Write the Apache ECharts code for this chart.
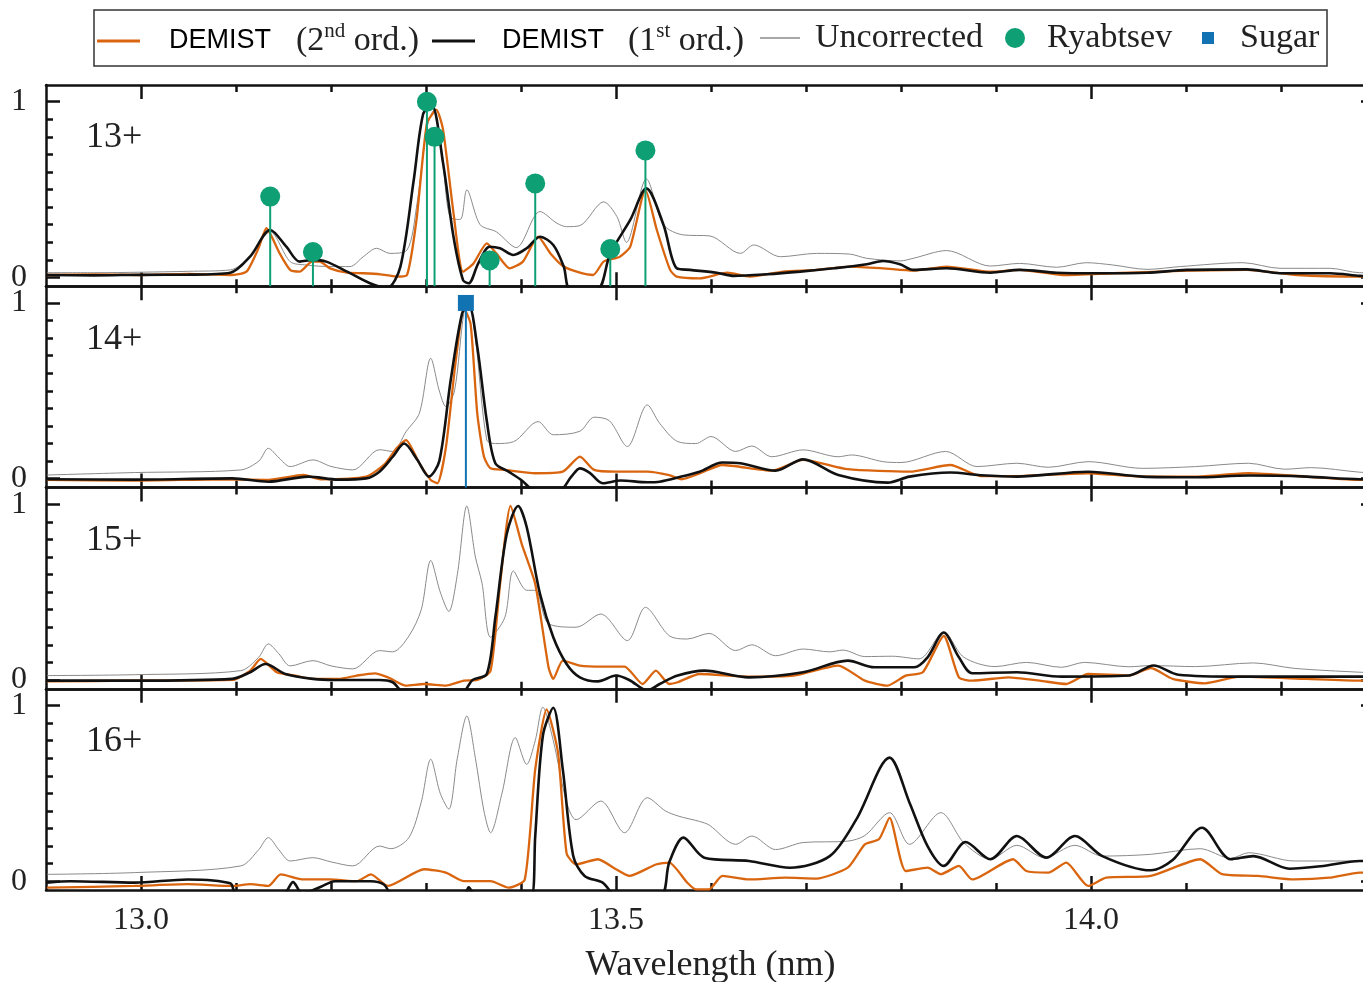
<!DOCTYPE html>
<html><head><meta charset="utf-8">
<script src="https://cdn.jsdelivr.net/npm/echarts@6/dist/echarts.min.js"></script>
<style>html,body{margin:0;padding:0;background:#fff}#c{width:1363px;height:982px}</style>
</head><body><div id="c"></div><script>
// ---------- labels / ticks ----------
const ions = ['13+', '14+', '15+', '16+'];
const xTickLabels = [13.0, 13.5, 14.0];
const xMinorTicks = [13.0, 13.1, 13.2, 13.3, 13.4, 13.5, 13.6, 13.7, 13.8, 13.9, 14.0, 14.1, 14.2];
const yTickLabels = [0, 1];
const yMinorTicks = [0, 0.1, 0.2, 0.3, 0.4, 0.5, 0.6, 0.7, 0.8, 0.9, 1.0];
const seriesNames = ['DEMIST (2nd ord.)', 'DEMIST (1st ord.)', 'Uncorrected', 'Ryabtsev', 'Sugar'];

// ---------- 13+ ----------
const p13Orange = [[12.901,0.014],[12.95,0.018],[13.0,0.014],[13.05,0.02],[13.094,0.014],[13.111,0.033],[13.124,0.17],[13.132,0.28],[13.146,0.137],[13.157,0.043],[13.167,0.033],[13.180,0.09],[13.188,0.09],[13.199,0.052],[13.217,0.027],[13.234,0.024],[13.252,0.018],[13.269,0.005],[13.280,0.014],[13.290,0.327],[13.301,0.877],[13.311,0.953],[13.318,0.84],[13.329,0.365],[13.339,0.033],[13.350,0.08],[13.364,0.194],[13.374,0.137],[13.388,0.052],[13.402,0.09],[13.418,0.232],[13.431,0.137],[13.445,0.062],[13.462,0.027],[13.476,0.014],[13.487,0.09],[13.504,0.118],[13.515,0.175],[13.531,0.498],[13.543,0.27],[13.557,0.043],[13.564,0.005],[13.588,-0.005],[13.617,0.027],[13.641,0.005],[13.676,0.033],[13.711,0.043],[13.746,0.062],[13.781,0.052],[13.813,0.039],[13.848,0.062],[13.894,0.033],[13.925,0.043],[13.971,0.014],[14.023,0.024],[14.094,0.037],[14.164,0.043],[14.217,0.014],[14.283,0.005],[14.299,0.005]];
const p13Black = [[12.901,0.014],[12.95,0.012],[13.0,0.015],[13.05,0.016],[13.094,0.027],[13.115,0.12],[13.136,0.27],[13.153,0.175],[13.167,0.09],[13.181,0.1],[13.195,0.09],[13.217,0.033],[13.241,-0.033],[13.259,-0.06],[13.273,0.06],[13.287,0.55],[13.297,0.93],[13.306,0.98],[13.318,0.65],[13.329,0.23],[13.339,-0.015],[13.345,-0.033],[13.355,0.08],[13.367,0.175],[13.378,0.166],[13.392,0.128],[13.406,0.166],[13.420,0.232],[13.434,0.185],[13.445,0.062],[13.452,-0.07],[13.480,-0.07],[13.494,0.137],[13.515,0.327],[13.532,0.507],[13.550,0.3],[13.564,0.052],[13.578,0.043],[13.606,0.027],[13.624,0.009],[13.659,0.018],[13.694,0.033],[13.729,0.052],[13.764,0.075],[13.781,0.094],[13.799,0.075],[13.813,0.043],[13.848,0.052],[13.894,0.027],[13.925,0.043],[13.964,0.027],[14.006,0.024],[14.059,0.027],[14.101,0.043],[14.164,0.046],[14.199,0.024],[14.252,0.024],[14.283,0.009],[14.299,0.005]];
const p13Gray = [[12.901,0.027],[12.95,0.027],[13.0,0.03],[13.05,0.035],[13.094,0.043],[13.115,0.12],[13.136,0.26],[13.157,0.09],[13.174,0.071],[13.199,0.062],[13.220,0.062],[13.234,0.118],[13.248,0.166],[13.262,0.137],[13.280,0.156],[13.290,0.4],[13.301,0.85],[13.308,0.95],[13.317,0.7],[13.325,0.346],[13.336,0.33],[13.343,0.498],[13.357,0.3],[13.374,0.26],[13.395,0.17],[13.420,0.375],[13.438,0.308],[13.448,0.289],[13.462,0.295],[13.487,0.43],[13.501,0.346],[13.511,0.2],[13.532,0.56],[13.550,0.3],[13.571,0.242],[13.599,0.236],[13.631,0.137],[13.645,0.185],[13.673,0.118],[13.711,0.137],[13.746,0.133],[13.764,0.109],[13.799,0.094],[13.813,0.109],[13.848,0.153],[13.894,0.065],[13.925,0.08],[13.964,0.058],[13.995,0.084],[14.023,0.071],[14.059,0.046],[14.094,0.062],[14.160,0.084],[14.199,0.052],[14.252,0.052],[14.283,0.027],[14.299,0.027]];
const ryabtsev13 = [[13.136,0.46],[13.181,0.145],[13.301,1.0],[13.309,0.80],[13.367,0.097],[13.415,0.535],[13.494,0.162],[13.531,0.723]];

// ---------- 14+ ----------
const p14Orange = [[12.901,-0.007],[12.993,-0.011],[13.086,-0.003],[13.134,-0.007],[13.171,0.021],[13.189,-0.003],[13.237,0.012],[13.256,0.08],[13.269,0.173],[13.279,0.22],[13.293,0.088],[13.305,-0.007],[13.312,-0.026],[13.321,0.18],[13.331,0.656],[13.340,0.97],[13.347,0.88],[13.354,0.37],[13.361,0.126],[13.368,0.059],[13.383,0.05],[13.415,0.031],[13.444,0.04],[13.462,0.126],[13.477,0.05],[13.500,0.04],[13.533,0.04],[13.556,0.02],[13.569,-0.003],[13.588,0.03],[13.612,0.078],[13.664,0.046],[13.697,0.107],[13.744,0.054],[13.809,0.04],[13.852,0.078],[13.884,0.015],[13.922,0.015],[13.997,0.031],[14.054,0.012],[14.110,0.012],[14.166,0.031],[14.227,0.012],[14.283,-0.007],[14.299,-0.007]];
const p14Black = [[12.901,-0.003],[12.993,-0.005],[13.096,0.002],[13.134,-0.017],[13.176,0.012],[13.208,-0.005],[13.237,0.002],[13.251,0.04],[13.265,0.125],[13.277,0.2],[13.291,0.106],[13.303,0.012],[13.314,0.1],[13.326,0.56],[13.338,0.94],[13.345,0.99],[13.354,0.75],[13.364,0.33],[13.373,0.088],[13.387,0.04],[13.401,-0.01],[13.415,-0.07],[13.440,-0.07],[13.453,0.012],[13.462,0.059],[13.472,0.035],[13.486,-0.026],[13.505,-0.01],[13.533,-0.02],[13.546,-0.017],[13.569,0.012],[13.588,0.04],[13.612,0.092],[13.631,0.088],[13.668,0.046],[13.697,0.11],[13.734,0.021],[13.786,-0.022],[13.809,0.012],[13.852,0.035],[13.884,0.02],[13.922,0.012],[13.997,0.04],[14.054,0.012],[14.110,0.008],[14.166,0.018],[14.227,0.012],[14.283,-0.003],[14.299,-0.003]];
const p14Gray = [[12.901,0.021],[12.993,0.035],[13.105,0.05],[13.124,0.1],[13.134,0.173],[13.145,0.12],[13.157,0.069],[13.181,0.107],[13.200,0.07],[13.223,0.05],[13.251,0.165],[13.265,0.155],[13.279,0.268],[13.293,0.372],[13.305,0.685],[13.314,0.5],[13.321,0.41],[13.330,0.5],[13.340,0.95],[13.345,1.0],[13.352,0.8],[13.364,0.22],[13.373,0.2],[13.392,0.21],[13.418,0.325],[13.434,0.25],[13.462,0.27],[13.477,0.35],[13.493,0.33],[13.512,0.183],[13.533,0.42],[13.546,0.315],[13.565,0.211],[13.584,0.2],[13.600,0.24],[13.626,0.155],[13.643,0.186],[13.664,0.125],[13.697,0.164],[13.734,0.125],[13.748,0.135],[13.781,0.097],[13.800,0.092],[13.847,0.155],[13.880,0.069],[13.922,0.088],[13.955,0.065],[13.997,0.097],[14.054,0.059],[14.110,0.069],[14.166,0.088],[14.204,0.054],[14.232,0.063],[14.283,0.037],[14.299,0.035]];
const sugar14 = [[13.342,1.0]];

// ---------- 15+ ----------
const p15Orange = [[12.901,-0.008],[12.993,-0.004],[13.096,0.0],[13.115,0.053],[13.126,0.12],[13.143,0.044],[13.162,0.025],[13.181,0.006],[13.208,0.006],[13.227,0.025],[13.246,0.038],[13.260,0.015],[13.279,-0.032],[13.298,-0.023],[13.321,-0.032],[13.340,-0.004],[13.354,0.0],[13.368,0.053],[13.378,0.546],[13.389,0.99],[13.401,0.77],[13.415,0.546],[13.429,0.072],[13.434,0.006],[13.444,0.11],[13.462,0.082],[13.486,0.076],[13.509,0.076],[13.528,-0.023],[13.542,0.053],[13.556,-0.023],[13.565,-0.013],[13.588,0.034],[13.640,0.019],[13.687,0.025],[13.734,0.082],[13.762,-0.004],[13.786,-0.032],[13.805,0.025],[13.823,0.044],[13.845,0.25],[13.861,0.015],[13.875,-0.004],[13.913,0.015],[13.946,-0.004],[13.974,-0.023],[13.997,0.034],[14.040,0.025],[14.063,0.068],[14.086,0.006],[14.120,-0.019],[14.157,0.019],[14.227,0.006],[14.283,-0.004],[14.299,-0.004]];
const p15Black = [[12.901,-0.004],[12.993,-0.004],[13.096,0.006],[13.115,0.044],[13.131,0.091],[13.152,0.034],[13.181,0.006],[13.204,0.0],[13.251,0.0],[13.265,-0.013],[13.277,-0.07],[13.338,-0.07],[13.349,0.0],[13.364,0.034],[13.373,0.356],[13.385,0.83],[13.397,0.99],[13.406,0.87],[13.420,0.49],[13.434,0.243],[13.448,0.091],[13.462,0.015],[13.481,-0.008],[13.500,0.025],[13.514,0.0],[13.533,-0.06],[13.546,-0.023],[13.565,0.025],[13.593,0.053],[13.640,0.015],[13.697,0.044],[13.744,0.11],[13.772,0.072],[13.814,0.072],[13.828,0.129],[13.845,0.27],[13.861,0.129],[13.875,0.038],[13.922,0.044],[13.969,0.019],[14.040,0.025],[14.066,0.082],[14.092,0.03],[14.157,0.019],[14.283,0.019],[14.299,0.019]];
const p15Gray = [[12.901,0.025],[12.993,0.03],[13.105,0.053],[13.124,0.13],[13.134,0.205],[13.145,0.15],[13.157,0.08],[13.181,0.11],[13.200,0.08],[13.223,0.063],[13.251,0.167],[13.265,0.16],[13.282,0.25],[13.295,0.4],[13.305,0.68],[13.315,0.5],[13.324,0.39],[13.333,0.6],[13.343,0.99],[13.352,0.7],[13.359,0.55],[13.368,0.243],[13.383,0.356],[13.392,0.62],[13.406,0.51],[13.415,0.51],[13.429,0.32],[13.458,0.3],[13.484,0.375],[13.512,0.224],[13.531,0.413],[13.556,0.252],[13.575,0.233],[13.598,0.265],[13.626,0.167],[13.643,0.2],[13.668,0.138],[13.697,0.176],[13.725,0.16],[13.739,0.17],[13.762,0.133],[13.791,0.135],[13.819,0.12],[13.845,0.27],[13.866,0.13],[13.899,0.076],[13.932,0.1],[13.969,0.072],[13.993,0.1],[14.040,0.075],[14.063,0.082],[14.110,0.076],[14.171,0.097],[14.214,0.066],[14.283,0.044],[14.299,0.042]];

// ---------- 16+ ----------
const p16Orange = [[12.901,-0.037],[12.993,-0.027],[13.049,-0.017],[13.096,-0.027],[13.115,-0.017],[13.134,-0.027],[13.147,0.039],[13.171,0.01],[13.199,0.01],[13.227,0.0],[13.242,0.039],[13.260,-0.027],[13.298,0.068],[13.321,0.049],[13.340,0.0],[13.368,0.0],[13.387,-0.037],[13.404,0.01],[13.415,0.636],[13.427,0.978],[13.439,0.73],[13.448,0.16],[13.458,0.095],[13.481,0.125],[13.500,0.068],[13.514,0.03],[13.542,0.095],[13.556,0.106],[13.575,-0.008],[13.584,-0.046],[13.598,-0.046],[13.612,0.03],[13.640,0.01],[13.678,0.02],[13.711,0.015],[13.744,0.077],[13.762,0.21],[13.777,0.24],[13.788,0.36],[13.805,0.058],[13.828,0.077],[13.842,0.04],[13.861,0.087],[13.875,0.01],[13.918,0.125],[13.932,0.058],[13.955,0.049],[13.974,0.106],[13.997,-0.027],[14.016,0.02],[14.063,0.03],[14.115,0.125],[14.138,0.04],[14.176,0.03],[14.214,0.01],[14.251,0.02],[14.283,0.049],[14.299,0.049]];
const p16Black = [[12.901,-0.008],[12.926,0.0],[12.993,-0.008],[13.049,0.01],[13.094,-0.012],[13.100,-0.07],[13.150,-0.07],[13.160,-0.005],[13.170,-0.07],[13.190,-0.03],[13.204,0.0],[13.242,0.0],[13.256,-0.02],[13.265,-0.08],[13.340,-0.08],[13.345,-0.035],[13.352,-0.08],[13.411,-0.08],[13.415,0.257],[13.423,0.826],[13.434,0.987],[13.444,0.636],[13.455,0.144],[13.467,0.03],[13.486,-0.008],[13.500,-0.08],[13.547,-0.08],[13.556,0.106],[13.571,0.248],[13.593,0.134],[13.640,0.115],[13.683,0.077],[13.725,0.143],[13.753,0.352],[13.788,0.703],[13.809,0.447],[13.828,0.2],[13.845,0.087],[13.868,0.223],[13.894,0.125],[13.922,0.257],[13.953,0.134],[13.983,0.257],[14.012,0.143],[14.063,0.062],[14.086,0.12],[14.117,0.304],[14.147,0.125],[14.171,0.143],[14.209,0.071],[14.242,0.085],[14.283,0.115],[14.299,0.115]];
const p16Gray = [[12.901,0.039],[12.993,0.049],[13.105,0.087],[13.124,0.18],[13.134,0.248],[13.145,0.18],[13.157,0.115],[13.181,0.134],[13.200,0.11],[13.223,0.087],[13.251,0.2],[13.263,0.185],[13.282,0.248],[13.295,0.45],[13.305,0.694],[13.315,0.5],[13.324,0.41],[13.333,0.7],[13.343,0.94],[13.352,0.7],[13.361,0.4],[13.368,0.276],[13.380,0.5],[13.394,0.817],[13.406,0.665],[13.415,0.8],[13.423,0.99],[13.434,0.8],[13.448,0.45],[13.458,0.35],[13.484,0.456],[13.509,0.276],[13.533,0.475],[13.552,0.40],[13.566,0.37],[13.588,0.34],[13.598,0.32],[13.626,0.21],[13.643,0.257],[13.668,0.18],[13.697,0.22],[13.744,0.228],[13.762,0.26],[13.788,0.39],[13.809,0.21],[13.842,0.39],[13.866,0.22],[13.894,0.125],[13.922,0.204],[13.951,0.134],[13.983,0.204],[14.012,0.143],[14.063,0.153],[14.115,0.185],[14.147,0.13],[14.166,0.162],[14.214,0.115],[14.283,0.115],[14.299,0.115]];

// ---------- layout / style ----------
const X_MIN = 12.9, X_MAX = 14.299, Y_MIN = -0.05, Y_MAX = 1.095;
const GL = 46, GW = 1329, PT = 85, PH = 201.25;
const SERIF = '"Liberation Serif", "Times New Roman", serif';
const SANS = '"Liberation Sans", Arial, sans-serif';
const C_OR = '#D9650F', C_BK = '#111111', C_GR = '#8a8a8a', C_GN = '#0E9F75', C_BL = '#1273B3';
const AX = '#111';

const panels = [
  {o: p13Orange, b: p13Black, g: p13Gray, marks: ryabtsev13, kind: 'Ryabtsev'},
  {o: p14Orange, b: p14Black, g: p14Gray, marks: sugar14, kind: 'Sugar'},
  {o: p15Orange, b: p15Black, g: p15Gray, marks: null},
  {o: p16Orange, b: p16Black, g: p16Gray, marks: null}
];

const grid = [], xAxis = [], yAxis = [], series = [], graphic = [];

function xAx(p, pos, ticks, len, line, labels, name) {
  return {type: 'value', gridIndex: p, min: X_MIN, max: X_MAX, position: pos,
    axisLine: {show: line, onZero: false, lineStyle: {color: AX, width: 2.5}},
    axisTick: {show: true, inside: true, length: len, customValues: ticks, lineStyle: {color: AX, width: 2.5}},
    axisLabel: {show: labels, customValues: xTickLabels, formatter: v => v.toFixed(1), margin: 15,
      fontFamily: SERIF, fontSize: 32, color: '#222'},
    splitLine: {show: false},
    name: name || '', nameLocation: 'middle', nameGap: 58,
    nameTextStyle: {fontFamily: SERIF, fontSize: 36, color: '#222'}};
}
function yAx(p, pos, ticks, len, line, labels) {
  return {type: 'value', gridIndex: p, min: Y_MIN, max: Y_MAX, position: pos,
    axisLine: {show: line, onZero: false, lineStyle: {color: AX, width: 2.5}},
    axisTick: {show: true, inside: true, length: len, customValues: ticks, lineStyle: {color: AX, width: 2.5}},
    axisLabel: {show: labels, customValues: yTickLabels, formatter: v => String(v), margin: 19,
      fontFamily: SERIF, fontSize: 32, color: '#222'},
    splitLine: {show: false}};
}

panels.forEach((pd, p) => {
  const top = PT + p * PH;
  grid.push({left: GL, top: top, width: GW, height: PH, containLabel: false, outerBoundsMode: 'none'});
  xAxis.push(xAx(p, 'bottom', xTickLabels, 14, true, p === 3, p === 3 ? 'Wavelength (nm)' : ''));
  xAxis.push(xAx(p, 'bottom', xMinorTicks, 7, false, false));
  xAxis.push(xAx(p, 'top', xTickLabels, 14, true, false));
  xAxis.push(xAx(p, 'top', xMinorTicks, 7, false, false));
  yAxis.push(yAx(p, 'left', yTickLabels, 14, true, true));
  yAxis.push(yAx(p, 'left', yMinorTicks, 7, false, false));
  yAxis.push(yAx(p, 'right', yTickLabels, 14, true, false));
  yAxis.push(yAx(p, 'right', yMinorTicks, 7, false, false));
  const xi = p * 4, yi = p * 4;
  series.push({name: 'Uncorrected', type: 'line', xAxisIndex: xi, yAxisIndex: yi, data: pd.g, color: C_GR,
    showSymbol: false, symbol: 'none', smooth: 0.3, lineStyle: {color: C_GR, width: 1}, z: 2, silent: true});
  series.push({name: 'DEMIST (2nd ord.)', type: 'line', xAxisIndex: xi, yAxisIndex: yi, data: pd.o, color: C_OR,
    showSymbol: false, symbol: 'none', smooth: 0.2, lineStyle: {color: C_OR, width: 2.3}, z: 3, silent: true});
  series.push({name: 'DEMIST (1st ord.)', type: 'line', xAxisIndex: xi, yAxisIndex: yi, data: pd.b, color: C_BK,
    showSymbol: false, symbol: 'none', smooth: 0.3, lineStyle: {color: C_BK, width: 2.6}, z: 4, silent: true});
  if (pd.marks) {
    const col = pd.kind === 'Ryabtsev' ? C_GN : C_BL;
    series.push({name: pd.kind + ' stems', type: 'custom', xAxisIndex: xi, yAxisIndex: yi, data: pd.marks, z: 5, silent: true,
      renderItem: (params, api) => {
        const a = api.coord([api.value(0), Y_MIN]);
        const b = api.coord([api.value(0), api.value(1)]);
        return {type: 'line', shape: {x1: a[0], y1: a[1], x2: b[0], y2: b[1]}, style: {stroke: col, lineWidth: 2}};
      }});
    series.push({name: pd.kind, type: 'scatter', xAxisIndex: xi, yAxisIndex: yi, data: pd.marks, color: col,
      symbol: pd.kind === 'Ryabtsev' ? 'circle' : 'rect', symbolSize: pd.kind === 'Ryabtsev' ? 20 : 16,
      itemStyle: {color: col, opacity: 1}, z: 6, silent: true});
  }
  graphic.push({type: 'text', x: 86, y: top + 53, silent: true,
    style: {text: ions[p], font: '36px ' + SERIF, fill: '#222', verticalAlign: 'middle', textVerticalAlign: 'middle'}});
});

graphic.push({type: 'rect', shape: {x: 94, y: 10, width: 1233, height: 56}, silent: true,
  style: {fill: 'none', stroke: '#333', lineWidth: 1.5}});

const richBase = {
  s: {fontFamily: SANS, fontSize: 27, color: '#000', lineHeight: 40},
  r: {fontFamily: SERIF, fontSize: 34, color: '#222', lineHeight: 40},
  sup: {fontFamily: SERIF, fontSize: 21, color: '#222', lineHeight: 30, verticalAlign: 'top'},
  p2: {width: 22}, p3: {width: 24}, p4: {width: 24}, p5: {width: 10}, p6: {width: 17}, p7: {width: 21}, p8: {width: 25}
};
function leg(left, name, icon, w, h, fmt) {
  return {left: left, top: 21, padding: 0, selectedMode: false, icon: icon, itemWidth: w, itemHeight: h,
    data: [name], formatter: () => fmt, textStyle: {rich: richBase}};
}
const legend = [
  leg(97, seriesNames[0], 'rect', 43, 3, '{p3|}{s|DEMIST}{p8|}{r|(2}{sup|nd}{r| ord.)}'),
  leg(432, seriesNames[1], 'rect', 43, 3, '{p2|}{s|DEMIST}{p4|}{r|(1}{sup|st}{r| ord.)}'),
  leg(760, seriesNames[2], 'rect', 40, 1.5, '{p5|}{r|Uncorrected}'),
  leg(1005, seriesNames[3], 'circle', 20, 20, '{p6|}{r|Ryabtsev}'),
  leg(1202, seriesNames[4], 'rect', 12, 12, '{p7|}{r|Sugar}')
];

const chart = echarts.init(document.getElementById('c'), null, {renderer: 'canvas'});
chart.setOption({animation: false, backgroundColor: '#fff', grid, xAxis, yAxis, series, legend, graphic});
</script></body></html>
